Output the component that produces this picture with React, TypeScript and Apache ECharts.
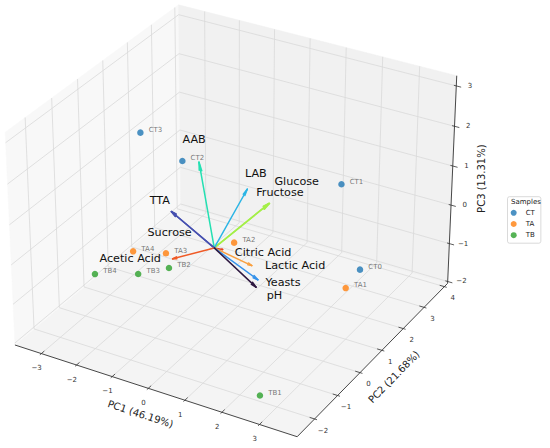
import React, { useEffect, useRef } from "react";
import * as echarts from "echarts";

// ---------------- data ----------------
const sampleNames = ["CT0", "CT1", "CT2", "CT3", "TA1", "TA2", "TA3", "TA4", "TB1", "TB2", "TB3", "TB4"];
const sampleGroup = ["CT", "CT", "CT", "CT", "TA", "TA", "TA", "TA", "TB", "TB", "TB", "TB"];
const scorePC1 = [3.07, 2.52, -1.32, -1.54, 2.76, 0.01, -1.64, -2.58, 2.78, -1.69, -2.68, -3.41];
const scorePC2 = [1.48, 1.48, 0.67, -0.68, 1.37, 0.83, 0.41, 0.4, -2.38, 0.6, 0.73, -0.02];
const scorePC3 = [-0.5, 1.5, 1.5, 2.8, -1.0, -0.3, -0.8, -1.0, -1.6, -1.3, -1.8, -1.6];
const groups = ["CT", "TA", "TB"];

const variables = ["Fructose", "Glucose", "AAB", "LAB", "Sucrose", "TTA", "Citric Acid", "Lactic Acid", "Acetic Acid", "Yeasts", "pH"];
const loadPC1 = [0.55, 0.56, -0.54, 0.23, -1.28, -1.29, 0.21, 0.91, -0.79, 1.18, 1.22];
const loadPC2 = [1.49, 1.5, 0.2, 1.05, 0.15, 0.15, 0.03, 0.19, -0.55, 0.03, -0.11];
const loadPC3 = [0.5, 0.5, 1.9, 1.0, 0.49, 0.5, 0.0, -0.3, -0.2, -0.5, -0.6];

const pcTitles = ["PC1 (46.19%)", "PC2 (21.68%)", "PC3 (13.31%)"];
const legendTitle = "Samples";

const xLim = [-3.76, 3.99];
const yLim = [-2.74, 4.16];
const zLim = [-2.05, 3.25];
const xTicks = [-3, -2, -1, 0, 1, 2, 3];
const yTicks = [-2, -1, 0, 1, 2, 3, 4];
const zTicks = [-2, -1, 0, 1, 2, 3];

// ---------------- styles / layout ----------------
const W = 550;
const H = 448;
const FONT = "DejaVu Sans";
const OX = 235.1; // screen placement of the projected view
const OY = 210.8;
const S = 2830;
const ELEV = 30;
const AZIM = -60;
const DIST = 10;
const HEAD_RATIO = 0.1;
const HEAD_ANGLE = (15 * Math.PI) / 180;
const ARROW_FONT = 11.2;

const groupColors: Record<string, string> = { CT: "#1f77b4", TA: "#ff7f0e", TB: "#2ca02c" };
const arrowColors: Record<string, string> = {
  AAB: "#24e0b2",
  LAB: "#2bb5e5",
  Glucose: "#a4ef48",
  Fructose: "#a4ef48",
  TTA: "#4650b0",
  Sucrose: "#4650b0",
  "Citric Acid": "#e5421e",
  "Lactic Acid": "#f9a040",
  "Acetic Acid": "#ef5a26",
  Yeasts: "#3592ea",
  pH: "#2e1840",
};
const arrowLabelLayout: Record<string, { dx: number; dy: number; align: string }> = {
  AAB: { dx: -16.6, dy: -22.8, align: "left" },
  LAB: { dx: -2.3, dy: -16.2, align: "left" },
  Glucose: { dx: 5, dy: -22.4, align: "left" },
  Fructose: { dx: -12.6, dy: -10.8, align: "left" },
  TTA: { dx: -21.7, dy: -11.2, align: "left" },
  Sucrose: { dx: -24.3, dy: 20.5, align: "left" },
  "Citric Acid": { dx: 12.3, dy: 3.2, align: "left" },
  "Lactic Acid": { dx: 13.3, dy: -0.5, align: "left" },
  "Acetic Acid": { dx: -11.7, dy: -0.1, align: "right" },
  Yeasts: { dx: 7.6, dy: 2.9, align: "left" },
  pH: { dx: 10.7, dy: 8.6, align: "left" },
};

// ---------------- projection (matplotlib-style perspective view) ----------------
type V3 = number[];
const cross = (a: V3, b: V3): V3 => [a[1] * b[2] - a[2] * b[1], a[2] * b[0] - a[0] * b[2], a[0] * b[1] - a[1] * b[0]];
const dot = (a: V3, b: V3) => a[0] * b[0] + a[1] * b[1] + a[2] * b[2];

const BOX = (() => {
  const a = [4, 4, 3];
  const n = Math.hypot(a[0], a[1], a[2]);
  return a.map((v) => (v * 1.8294640721620434) / n);
})();
const VIEW = (() => {
  const e = (ELEV * Math.PI) / 180;
  const az = (AZIM * Math.PI) / 180;
  const ps = [Math.cos(e) * Math.cos(az), Math.cos(e) * Math.sin(az), Math.sin(e)];
  const eye = BOX.map((b, i) => b / 2 + DIST * ps[i]);
  const w = ps;
  let u = cross([0, 0, 1], w);
  const un = Math.hypot(u[0], u[1], u[2]);
  u = u.map((c) => c / un);
  const v = cross(w, u);
  return { eye, u, v, w };
})();

function project(x: number, y: number, z: number): [number, number] {
  const X = ((x - xLim[0]) / (xLim[1] - xLim[0])) * BOX[0];
  const Y = ((y - yLim[0]) / (yLim[1] - yLim[0])) * BOX[1];
  const Z = ((z - zLim[0]) / (zLim[1] - zLim[0])) * BOX[2];
  const d = [X - VIEW.eye[0], Y - VIEW.eye[1], Z - VIEW.eye[2]];
  const xv = dot(VIEW.u, d);
  const yv = dot(VIEW.v, d);
  const zv = dot(VIEW.w, d);
  return [xv / -zv, yv / -zv];
}

const fmtTick = (t: number) => (t < 0 ? "\u2212" + Math.abs(t) : String(t));

// ---------------- render functions ----------------
function sceneRender(_params: any, api: any) {
  const P = (x: number, y: number, z: number) => api.coord(project(x, y, z));
  const [x0, x1] = xLim;
  const [y0, y1] = yLim;
  const [z0, z1] = zLim;
  const ch: any[] = [];
  const poly = (pts: number[][], fill: string) =>
    ch.push({ type: "polygon", shape: { points: pts }, style: { fill, stroke: fill, lineWidth: 0.5 }, silent: true });
  const line = (a: number[], b: number[], stroke: string, lw: number) =>
    ch.push({ type: "line", shape: { x1: a[0], y1: a[1], x2: b[0], y2: b[1] }, style: { stroke, lineWidth: lw }, silent: true });
  const text = (p: number[], str: string, size: number, fill: string, rot = 0) =>
    ch.push({
      type: "text",
      x: p[0],
      y: p[1],
      rotation: rot,
      silent: true,
      style: { text: str, fill, fontSize: size, fontFamily: FONT, align: "center", verticalAlign: "middle" },
    });

  // panes
  poly([P(x0, y0, z0), P(x1, y0, z0), P(x1, y1, z0), P(x0, y1, z0)], "#f4f4f4");
  poly([P(x0, y0, z0), P(x0, y1, z0), P(x0, y1, z1), P(x0, y0, z1)], "#f8f8f8");
  poly([P(x0, y1, z0), P(x1, y1, z0), P(x1, y1, z1), P(x0, y1, z1)], "#f1f1f1");

  const gc = "#d9d9d9";
  const gw = 0.8;
  xTicks.forEach((t) => {
    line(P(t, y0, z0), P(t, y1, z0), gc, gw);
    line(P(t, y1, z0), P(t, y1, z1), gc, gw);
  });
  yTicks.forEach((t) => {
    line(P(x0, t, z0), P(x1, t, z0), gc, gw);
    line(P(x0, t, z0), P(x0, t, z1), gc, gw);
  });
  zTicks.forEach((t) => {
    line(P(x0, y0, t), P(x0, y1, t), gc, gw);
    line(P(x0, y1, t), P(x1, y1, t), gc, gw);
  });

  // axis lines
  const ac = "#333333";
  line(P(x0, y0, z0), P(x1, y0, z0), ac, 0.9);
  line(P(x1, y0, z0), P(x1, y1, z0), ac, 0.9);
  line(P(x1, y1, z0), P(x1, y1, z1), ac, 0.9);

  const xr = (x1 - x0) / 12;
  const yr = (y1 - y0) / 12;
  // ticks + labels
  xTicks.forEach((t) => {
    line(P(t, y0 - 0.1 * yr, z0), P(t, y0 + 0.2 * yr, z0), ac, 0.8);
    const p = P(t, y0, z0);
    text([p[0] - 4.7, p[1] + 14.5], fmtTick(t), 7, "#333");
  });
  yTicks.forEach((t) => {
    line(P(x1 - 0.2 * xr, t, z0), P(x1 + 0.1 * xr, t, z0), ac, 0.8);
    const p = P(x1, t, z0);
    text([p[0] + 8.4, p[1] + 11.6], fmtTick(t), 7, "#333");
  });
  zTicks.forEach((t) => {
    line(P(x1 - 0.1 * xr, y1, t), P(x1 + 0.2 * xr, y1, t), ac, 0.8);
    const p = P(x1, y1, t);
    text([p[0] + 13.8, p[1]], fmtTick(t), 7, "#333");
  });

  // axis titles
  const xm = (x0 + x1) / 2;
  const ym = (y0 + y1) / 2;
  const zm = (z0 + z1) / 2;
  const a1 = P(xm - 0.5, y0, z0);
  const b1 = P(xm + 0.5, y0, z0);
  const m1 = P(xm, y0, z0);
  text([m1[0] - 12, m1[1] + 24.3], pcTitles[0], 10, "#222", -Math.atan2(b1[1] - a1[1], b1[0] - a1[0]));
  const a2 = P(x1, ym - 0.5, z0);
  const b2 = P(x1, ym + 0.5, z0);
  const m2 = P(x1, ym, z0);
  text([m2[0] + 18.3, m2[1] + 20.2], pcTitles[1], 10, "#222", -Math.atan2(b2[1] - a2[1], b2[0] - a2[0]));
  const m3 = P(x1, y1, zm);
  text([m3[0] + 29.6, m3[1] - 3.1], pcTitles[2], 10, "#222", Math.PI / 2);

  return { type: "group", children: ch };
}

function arrowRender(_params: any, api: any) {
  const i = api.value(2);
  const V = [loadPC1[i], loadPC2[i], loadPC3[i]];
  const name = variables[i];
  const color = arrowColors[name];
  const o = api.coord(project(0, 0, 0));
  const t = api.coord(project(V[0], V[1], V[2]));
  const nxy = Math.hypot(V[0], V[1]) || 1;
  const k = [V[1] / nxy, -V[0] / nxy, 0];
  const kxv = cross(k, V);
  const c = Math.cos(HEAD_ANGLE);
  const s = Math.sin(HEAD_ANGLE);
  const heads = [1, -1].map((sg) => {
    const r = V.map((vv, j) => vv * c + sg * kxv[j] * s);
    const hp = V.map((vv, j) => vv - HEAD_RATIO * r[j]);
    return api.coord(project(hp[0], hp[1], hp[2]));
  });
  const lay = arrowLabelLayout[name];
  const st = { stroke: color, lineWidth: 1.5, lineCap: "round" };
  return {
    type: "group",
    children: [
      { type: "line", shape: { x1: o[0], y1: o[1], x2: t[0], y2: t[1] }, style: st },
      { type: "line", shape: { x1: t[0], y1: t[1], x2: heads[0][0], y2: heads[0][1] }, style: st },
      { type: "line", shape: { x1: t[0], y1: t[1], x2: heads[1][0], y2: heads[1][1] }, style: st },
      {
        type: "text",
        x: t[0] + lay.dx,
        y: t[1] + lay.dy,
        style: { text: name, fill: "#111", fontSize: ARROW_FONT, fontFamily: FONT, align: lay.align, verticalAlign: "middle" },
      },
    ],
  };
}

// ---------------- option ----------------
function buildOption() {
  const scatterSeries = groups.map((g) => ({
    type: "scatter",
    name: g,
    z: 2,
    symbol: "circle",
    symbolSize: 6.5,
    itemStyle: { color: groupColors[g] },
    label: {
      show: true,
      formatter: "{b}",
      position: "right",
      distance: 5,
      offset: [0, -2.7],
      fontSize: 7,
      fontFamily: FONT,
      color: "#555",
    },
    data: sampleNames
      .map((n, i) => ({ n, i }))
      .filter((d) => sampleGroup[d.i] === g)
      .map((d) => ({ name: d.n, value: project(scorePC1[d.i], scorePC2[d.i], scorePC3[d.i]) })),
  }));

  return {
    animation: false,
    backgroundColor: "#ffffff",
    textStyle: { fontFamily: FONT },
    grid: { left: 0, right: 0, top: 0, bottom: 0 },
    xAxis: { type: "value", min: -OX / S, max: (W - OX) / S, show: false },
    yAxis: { type: "value", min: -(H - OY) / S, max: OY / S, show: false },
    legend: {
      data: groups,
      orient: "vertical",
      left: 507.5,
      top: 196.7,
      padding: [12.6, 6, 4.5, 3.2],
      itemWidth: 14,
      itemHeight: 6,
      itemGap: 4.2,
      icon: "circle",
      backgroundColor: "#ffffff",
      borderColor: "#d0d0d0",
      borderWidth: 0.8,
      borderRadius: 2,
      textStyle: { fontSize: 7, fontFamily: FONT, color: "#222" },
    },
    graphic: [
      {
        type: "text",
        x: 526,
        y: 201.7,
        z: 100,
        style: { text: legendTitle, fontSize: 7, fontFamily: FONT, fill: "#222", align: "center", verticalAlign: "middle" },
      },
    ],
    series: [
      {
        type: "custom",
        name: "scene",
        z: 1,
        silent: true,
        renderItem: sceneRender,
        data: [[0, 0]],
      },
      ...scatterSeries,
      {
        type: "custom",
        name: "loadings",
        z: 3,
        silent: true,
        renderItem: arrowRender,
        data: variables.map((_, i) => {
          const p = project(loadPC1[i], loadPC2[i], loadPC3[i]);
          return [p[0], p[1], i];
        }),
      },
    ],
  };
}

export default function App() {
  const ref = useRef<HTMLDivElement>(null);
  useEffect(() => {
    document.body.style.margin = "0";
    const chart = echarts.init(ref.current as HTMLDivElement, null, { renderer: "svg" });
    chart.setOption(buildOption() as any);
    return () => chart.dispose();
  }, []);
  return <div ref={ref} style={{ width: W, height: H }} />;
}
